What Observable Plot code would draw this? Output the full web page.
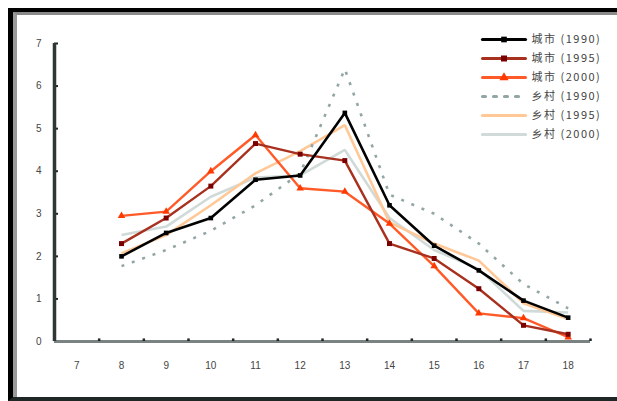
<!DOCTYPE html>
<html>
<head>
<meta charset="utf-8">
<script src="https://cdn.jsdelivr.net/npm/d3@7"></script>
<script src="https://cdn.jsdelivr.net/npm/@observablehq/plot@0.6"></script>
<style>
  html, body { margin: 0; padding: 0; background: #fff; }
  #wrap { position: relative; width: 617px; height: 401px; overflow: hidden; background: #fff; }
  #chart, #legend { position: absolute; }
  #chart { left: 0; top: 0; }
  #legend { left: 470px; top: 15px; }
  #frame { position: absolute; left: 8px; top: 8px; width: 604px; height: 385px;
           border-left: 5px solid #000; border-top: 4px solid #000; border-bottom: 4px solid #1e2626; pointer-events: none; }
  #frame2 { position: absolute; left: 0; top: 0; right: 0; bottom: 0; border-left: 4px solid #9a9a9a; border-top: 3px solid #8a8a8a; }
</style>
</head>
<body>
<div id="wrap">
  <div id="chart"></div>
  <div id="legend"></div>
  <div id="frame"><div id="frame2"></div></div>
</div>
<script>
// Categories (age) shown on the x axis
const xLabels = [7, 8, 9, 10, 11, 12, 13, 14, 15, 16, 17, 18];
// Ages that carry data
const ages = [8, 9, 10, 11, 12, 13, 14, 15, 16, 17, 18];
const yTicks = [0, 1, 2, 3, 4, 5, 6, 7];

const seriesNames = ["城市 (1990)", "城市 (1995)", "城市 (2000)", "乡村 (1990)", "乡村 (1995)", "乡村 (2000)"];

const s1 = [2.0, 2.55, 2.9, 3.8, 3.9, 5.37, 3.2, 2.25, 1.67, 0.96, 0.56];
const s2 = [2.3, 2.9, 3.65, 4.65, 4.4, 4.25, 2.3, 1.95, 1.24, 0.38, 0.17];
const s3 = [2.95, 3.05, 4.0, 4.85, 3.6, 3.52, 2.77, 1.77, 0.66, 0.55, 0.1];
const s4 = [1.77, 2.15, 2.6, 3.2, 3.95, 6.4, 3.45, 3.0, 2.3, 1.35, 0.78];
const s5 = [2.07, 2.5, 3.2, 3.95, 4.47, 5.08, 2.8, 2.3, 1.9, 0.9, 0.53];
const s6 = [2.5, 2.7, 3.4, 3.85, 3.9, 4.5, 2.9, 2.15, 1.7, 0.72, 0.68];
const seriesValues = [s1, s2, s3, s4, s5, s6];

const styles = [
  {stroke: "#000000", fill: "#000000", width: 2.6, dash: null, symbol: "square", r: 2.6},
  {stroke: "#a8301e", fill: "#7a0000", width: 2.4, dash: null, symbol: "square", r: 2.8},
  {stroke: "#ff5a28", fill: "#ff3a00", width: 2.4, dash: null, symbol: "triangle", r: 2.8},
  {stroke: "#93a6a6", fill: "#93a6a6", width: 2.6, dash: "3,8", symbol: "circle", r: 0},
  {stroke: "#ffc896", fill: "#ffb880", width: 2.6, dash: null, symbol: "circle", r: 0},
  {stroke: "#d0dad8", fill: "#c8d4d2", width: 2.6, dash: null, symbol: "circle", r: 0}
];

const rows = [];
seriesNames.forEach((name, i) => {
  ages.forEach((a, j) => rows.push({series: name, idx: i, age: a, value: seriesValues[i][j]}));
});

const boundaries = xLabels.map(a => a - 0.5).concat([xLabels[xLabels.length - 1] + 0.5]);

const marks = [];
// series drawn from last to first so the black line sits on top
for (let i = seriesNames.length - 1; i >= 0; i--) {
  const st = styles[i];
  const d = rows.filter(r => r.idx === i);
  marks.push(Plot.line(d, {x: "age", y: "value", stroke: st.stroke, strokeWidth: st.width,
    strokeDasharray: st.dash, strokeLinejoin: "miter", strokeLinecap: "butt"}));
  if (st.r > 0) marks.push(Plot.dot(d, {x: "age", y: "value", symbol: st.symbol, r: st.r, fill: st.fill, stroke: "none"}));
}

const chart = Plot.plot({
  width: 617,
  height: 401,
  marginLeft: 54,
  marginRight: 27,
  marginTop: 43,
  marginBottom: 60,
  style: {fontFamily: "'Liberation Sans', Arial, sans-serif", fontSize: "10px", color: "#444", background: "transparent"},
  x: {type: "linear", domain: [xLabels[0] - 0.5, xLabels[xLabels.length - 1] + 0.5]},
  y: {domain: [0, 7]},
  marks: [
    Plot.axisY({ticks: yTicks, tickFormat: d => String(d), tickSize: 0, tickPadding: 13, label: null, fill: "#444", fontSize: 10}),
    Plot.ruleY(yTicks, {y: d => d, x1: xLabels[0] - 0.5, x2: xLabels[0] - 0.41, stroke: "#1e2626", strokeWidth: 2}),
    Plot.axisX({ticks: xLabels, tickFormat: d => String(d), tickSize: 0, tickPadding: 20, label: null, fill: "#444", fontSize: 10}),
    Plot.ruleY([0], {stroke: "#7a8282", strokeWidth: 3}),
    Plot.ruleX(boundaries, {x: d => d, y1: 0, y2: 0.06, stroke: "#1e2626", strokeWidth: 2.5}),
    Plot.ruleX([xLabels[0] - 0.5], {y1: 0, y2: 7, stroke: "#2e3636", strokeWidth: 3.5}),
    ...marks
  ]
});
document.getElementById("chart").appendChild(chart);

// Legend
const legRows = [];
seriesNames.forEach((name, i) => { legRows.push({series: name, idx: i, t: 0}); legRows.push({series: name, idx: i, t: 1}); });
const legMarks = [];
seriesNames.forEach((name, i) => {
  const st = styles[i];
  legMarks.push(Plot.line(legRows.filter(r => r.idx === i), {x: "t", y: "series", stroke: st.stroke,
    strokeWidth: st.width + 0.6, strokeDasharray: st.dash}));
  if (st.r > 0) legMarks.push(Plot.dot([{series: name, t: 0.5}], {x: "t", y: "series", symbol: st.symbol, r: st.r + 0.6, fill: st.fill}));
});
legMarks.push(Plot.text(seriesNames, {x: 1, y: d => d, text: d => d, textAnchor: "start", dx: 6,
  fill: "#444", fontSize: 11, fontFamily: "'Noto Sans CJK SC', sans-serif"}));

const legend = Plot.plot({
  width: 147,
  height: 140,
  marginLeft: 12,
  marginRight: 92,
  marginTop: 14,
  marginBottom: 12,
  style: {background: "transparent", overflow: "visible", letterSpacing: "1.5px"},
  x: {domain: [0, 1], axis: null},
  y: {type: "point", domain: seriesNames, axis: null},
  marks: legMarks
});
document.getElementById("legend").appendChild(legend);
</script>
</body>
</html>
